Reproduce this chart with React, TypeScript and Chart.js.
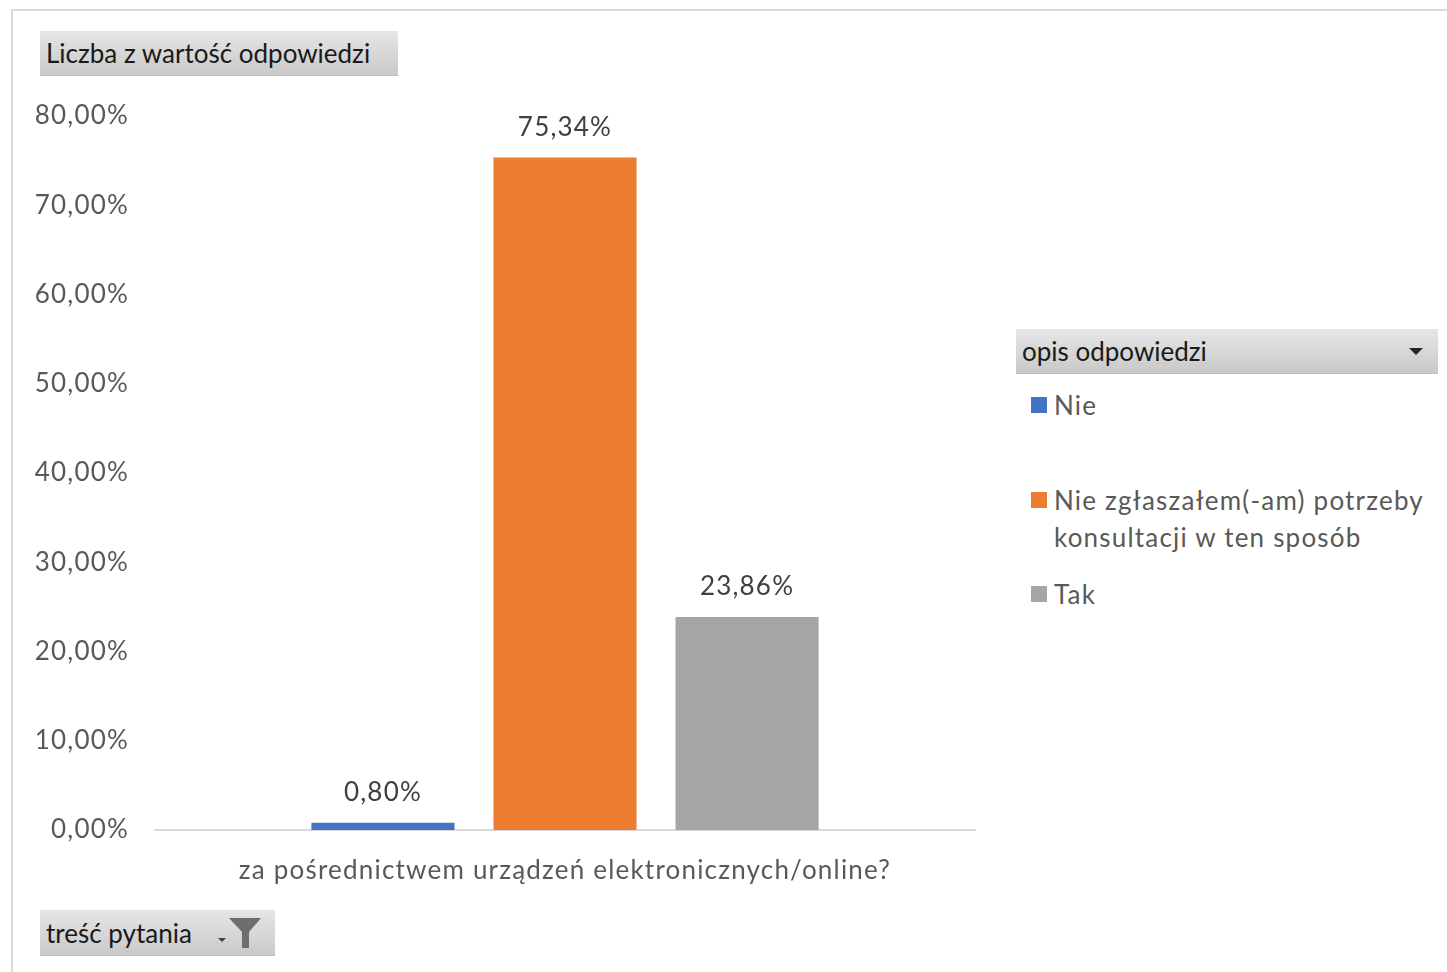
import React, { useEffect, useRef } from "react";
import { Chart, registerables } from "chart.js";

Chart.register(...registerables);

const categories = ["za pośrednictwem urządzeń elektronicznych/online?"];
const seriesNames = ["Nie", "Nie zgłaszałem(-am) potrzeby konsultacji w ten sposób", "Tak"];
const legendLines = [["Nie"], ["Nie zgłaszałem(-am) potrzeby", "konsultacji w ten sposób"], ["Tak"]];
const seriesValues = [[0.008], [0.7534], [0.2386]];
const seriesColors = ["#4472C4", "#ED7D31", "#A5A5A5"];
const yTicks = [0, 0.1, 0.2, 0.3, 0.4, 0.5, 0.6, 0.7, 0.8];

const FONT = "Lato, 'Open Sans', sans-serif";
const TEXT = "#595959";
const SPACING = "1.2px";

const fmtPct = (v: number) => (v * 100).toFixed(2).replace(".", ",") + "%";

const spacingPlugin = {
  id: "spacing",
  beforeInit(chart: any) { chart.ctx.letterSpacing = SPACING; },
  beforeDraw(chart: any) { chart.ctx.letterSpacing = SPACING; },
};

const labelPlugin = {
  id: "barLabels",
  afterDatasetsDraw(chart: any) {
    const ctx = chart.ctx;
    ctx.save();
    ctx.letterSpacing = SPACING;
    ctx.font = `26px ${FONT}`;
    ctx.fillStyle = "#404040";
    ctx.textAlign = "center";
    ctx.textBaseline = "bottom";
    chart.data.datasets.forEach((ds: any, i: number) => {
      const meta = chart.getDatasetMeta(i);
      meta.data.forEach((el: any, j: number) => {
        ctx.fillText(fmtPct(ds.data[j]), el.x, el.y - 17);
      });
    });
    ctx.restore();
  },
};

const btnStyle: React.CSSProperties = {
  position: "absolute",
  background: "linear-gradient(#e6e6e6, #c9c9c9)",
  color: "#1a1a1a",
  fontFamily: FONT,
  fontSize: 26,
  display: "flex",
  alignItems: "center",
  boxSizing: "border-box",
  paddingLeft: 6,
  borderBottom: "1px solid #bdbdbd",
};

export default function App() {
  const ref = useRef<HTMLCanvasElement>(null);
  useEffect(() => {
    if (!ref.current) return;
    const chart = new Chart(ref.current, {
      type: "bar",
      data: {
        labels: categories,
        datasets: seriesNames.map((name, i) => ({
          label: name,
          data: seriesValues[i],
          backgroundColor: seriesColors[i],
          borderWidth: 0,
          categoryPercentage: 0.666,
          barPercentage: 0.786,
        })),
      },
      options: {
        animation: false,
        responsive: false,
        layout: { padding: { top: 116, left: 0, right: 25, bottom: 0 } },
        plugins: { legend: { display: false }, tooltip: { enabled: false } },
        scales: {
          x: {
            grid: { display: false, drawTicks: false },
            border: { display: true, color: "#d9d9d9", width: 2 },
            ticks: { color: TEXT, font: { family: FONT, size: 26 }, padding: 25, maxRotation: 0 },
            afterFit: (s: any) => { s.height = 71; },
          },
          y: {
            min: 0,
            max: 0.8,
            afterBuildTicks: (s: any) => { s.ticks = yTicks.map((v) => ({ value: v })); },
            grid: { display: false, drawTicks: false },
            border: { display: false },
            ticks: {
              color: TEXT,
              font: { family: FONT, size: 26 },
              padding: 26,
              callback: (v: any) => fmtPct(Number(v)),
            },
            afterFit: (s: any) => { s.width = 155; },
          },
        },
      },
      plugins: [spacingPlugin, labelPlugin],
    });
    return () => chart.destroy();
  }, []);

  return (
    <div style={{ position: "absolute", left: 0, top: 0, width: 1447, height: 972, background: "#fff", overflow: "hidden" }}>
      <div style={{ position: "absolute", left: 11, top: 9, width: 1460, height: 1000, border: "2px solid #d9d9d9", boxSizing: "border-box" }} />
      <canvas ref={ref} width={1000} height={901} style={{ position: "absolute", left: 0, top: 0 }} />
      <div style={{ ...btnStyle, left: 40, top: 31, width: 358, height: 45 }}>Liczba z wartość odpowiedzi</div>
      <div style={{ ...btnStyle, left: 40, top: 910, width: 235, height: 46 }}>
        <span>treść pytania</span>
        <svg width="52" height="38" viewBox="0 0 52 38" style={{ marginLeft: 24 }}>
          <polygon points="2,24 10,24 6,28" fill="#404040" />
          <polygon points="13,4 45,4 33,18 33,34 26,34 26,18" fill="#6e6e6e" />
        </svg>
      </div>
      <div style={{ ...btnStyle, left: 1016, top: 329, width: 422, height: 45 }}>
        <span style={{ flex: 1 }}>opis odpowiedzi</span>
        <svg width="16" height="10" viewBox="0 0 16 10" style={{ marginRight: 14 }}>
          <polygon points="1,2 15,2 8,9" fill="#262626" />
        </svg>
      </div>
      {legendLines.map((lines, i) => {
        const tops = [387, 482, 576];
        return (
          <div key={i} style={{ position: "absolute", left: 1031, top: tops[i], fontFamily: FONT, fontSize: 26, color: TEXT, lineHeight: "37px", letterSpacing: SPACING }}>
            <div style={{ position: "absolute", left: 0, top: 10, width: 16, height: 16, background: seriesColors[i] }} />
            {lines.map((l, k) => (
              <div key={k} style={{ marginLeft: 23, whiteSpace: "nowrap" }}>{l}</div>
            ))}
          </div>
        );
      })}
    </div>
  );
}
